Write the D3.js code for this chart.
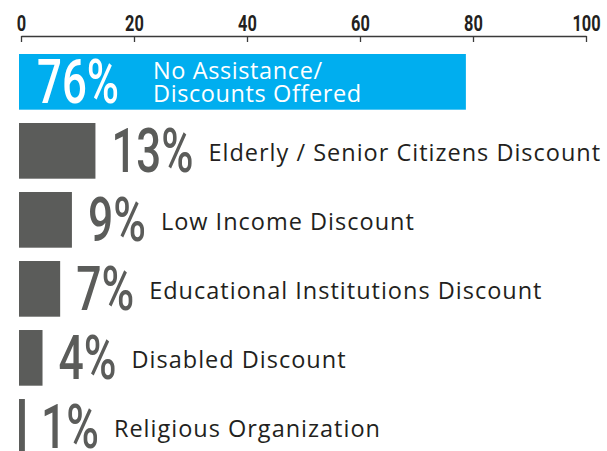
<!DOCTYPE html>
<html>
<head>
<meta charset="utf-8">
<script src="https://cdn.jsdelivr.net/npm/d3@7"></script>
<style>
  html, body { margin: 0; padding: 0; background: #fff; }
  svg { display: block; }
</style>
</head>
<body>
<svg id="chart" width="607" height="451"></svg>
<script>
// data
const categories = [
  "No Assistance/\nDiscounts Offered",
  "Elderly / Senior Citizens Discount",
  "Low Income Discount",
  "Educational Institutions Discount",
  "Disabled Discount",
  "Religious Organization"
];
const values = [76, 13, 9, 7, 4, 1];
const tickValues = [0, 20, 40, 60, 80, 100];

const svg = d3.select("#chart");
const BLUE = "#00aeef", GREY = "#5b5c5a", INK = "#231f20";

// axis scale (as printed) and bar scale (bars are drawn a bit wider in the original)
const x = d3.scaleLinear().domain([0, 100]).range([21, 586]);
const xb = d3.scaleLinear().domain([0, 100]).range([19, 607]);
const y = d3.scaleBand().domain(categories).range([54, 454.7]).paddingInner(0.193).paddingOuter(0);

// top axis, ticks pointing down
const axis = svg.append("g")
  .attr("transform", "translate(0,36)")
  .call(d3.axisTop(x).tickValues(tickValues).tickSizeInner(-6).tickSizeOuter(0).tickPadding(5));
axis.select(".domain").attr("stroke", "#3a3a3a").attr("stroke-width", 1.3);
axis.selectAll(".tick line").attr("stroke", "#3a3a3a").attr("stroke-width", 1.3);
axis.selectAll(".tick text")
  .attr("fill", INK)
  .style("font-family", "Roboto")
  .style("font-weight", 700)
  .style("font-size", "22.5px")
  .attr("textLength", d => String(d).length * 9.4)
  .attr("lengthAdjust", "spacingAndGlyphs");

const rows = svg.append("g").selectAll("g")
  .data(categories.map((c, i) => ({ cat: c, v: values[i], i })))
  .join("g");

rows.append("rect")
  .attr("x", xb(0))
  .attr("y", d => y(d.cat))
  .attr("width", d => xb(d.v) - xb(0))
  .attr("height", y.bandwidth())
  .attr("fill", d => d.i === 0 ? BLUE : GREY);

// condensed percent labels
const pctW = d => String(d.v + "%").length * 24 + 10;
const pctX = d => d.i === 0 ? xb(0) + 18 : xb(d.v) + 16;

rows.append("text")
  .attr("x", pctX)
  .attr("y", d => y(d.cat) + y.bandwidth() / 2 + 21.5)
  .attr("fill", d => d.i === 0 ? "#fff" : GREY)
  .style("font-family", "Roboto")
  .style("font-weight", 500)
  .style("font-size", "61px")
  .attr("textLength", pctW)
  .attr("lengthAdjust", "spacingAndGlyphs")
  .text(d => d.v + "%");

const cat = rows.append("text")
  .attr("x", d => d.i === 0 ? 153 : pctX(d) + pctW(d) + 15)
  .attr("y", d => d.i === 0 ? y(d.cat) + 24.5 : y(d.cat) + y.bandwidth() / 2 + 10)
  .attr("fill", d => d.i === 0 ? "#fff" : INK)
  .style("font-family", "Open Sans")
  .style("font-size", "23.5px")
  .style("letter-spacing", d => d.i === 0 ? "0.6px" : "1px");

cat.selectAll("tspan")
  .data(d => d.cat.split("\n").map(s => ({ s, x: d.i === 0 ? 153 : null })))
  .join("tspan")
  .attr("x", t => t.x)
  .attr("dy", (t, j) => j === 0 ? 0 : 23.5)
  .text(t => t.s);
</script>
</body>
</html>
